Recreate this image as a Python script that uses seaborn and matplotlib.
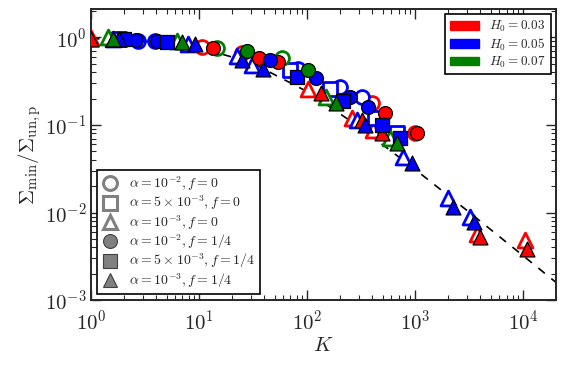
import matplotlib
matplotlib.use("Agg")
from matplotlib import pyplot as plt
from matplotlib.lines import Line2D
from matplotlib.patches import Patch
import seaborn as sns
import numpy as np

# ---- data ----
# red, H0 = 0.03
red_open_circ_K = [10.6, 25, 400, 1000]
red_open_circ_y = [0.78, 0.66, 0.18, 0.082]
red_open_tri_K = [1.0, 102, 260, 410, 3750, 10400]
red_open_tri_y = [0.98, 0.26, 0.12, 0.088, 0.0057, 0.0049]
red_fill_circ_K = [13.5, 36, 54, 530, 1040]
red_fill_circ_y = [0.75, 0.58, 0.52, 0.137, 0.08]
red_fill_tri_K = [1.0, 134, 320, 495, 4000, 10800]
red_fill_tri_y = [0.95, 0.23, 0.114, 0.081, 0.0053, 0.0038]

# blue, H0 = 0.05
blue_open_circ_K = [2.7, 3.9, 83, 202, 320]
blue_open_circ_y = [0.92, 0.92, 0.44, 0.27, 0.21]
blue_open_sq_K = [1.8, 70, 163, 425, 680]
blue_open_sq_y = [0.97, 0.42, 0.26, 0.12, 0.081]
blue_open_tri_K = [1.6, 7.9, 22.5, 31, 290, 775, 2000, 3200]
blue_open_tri_y = [0.97, 0.85, 0.62, 0.48, 0.114, 0.043, 0.0148, 0.009]
blue_fill_circ_K = [2.6, 4.1, 45, 121, 250, 368]
blue_fill_circ_y = [0.93, 0.9, 0.55, 0.34, 0.21, 0.16]
blue_fill_sq_K = [2.0, 5.0, 80, 214, 495, 720]
blue_fill_sq_y = [0.95, 0.88, 0.35, 0.19, 0.10, 0.071]
blue_fill_tri_K = [1.8, 9.2, 25, 39, 345, 935, 2250, 3500]
blue_fill_tri_y = [0.96, 0.83, 0.55, 0.44, 0.10, 0.037, 0.0117, 0.0077]

# green, H0 = 0.07
green_open_circ_K = [14.7, 59]
green_open_circ_y = [0.75, 0.58]
green_open_tri_K = [1.44, 6.2, 150, 590]
green_open_tri_y = [1.0, 0.9, 0.21, 0.071]
green_fill_circ_K = [28, 102]
green_fill_circ_y = [0.70, 0.42]
green_fill_tri_K = [1.6, 7.0, 186, 680]
green_fill_tri_y = [0.97, 0.88, 0.18, 0.062]

# dashed reference curve
line_K = [1, 3, 10, 30, 100, 300, 1000, 3000, 10000, 20000]
line_y = [0.97, 0.91, 0.76, 0.52, 0.24, 0.096, 0.031, 0.0106, 0.0032, 0.0016]

H0_labels = [r'$H_0=0.03$', r'$H_0=0.05$', r'$H_0=0.07$']
H0_colors = ['red', 'blue', 'green']
alpha_labels = [r'$\alpha=10^{-2}, f=0$', r'$\alpha=5\times10^{-3}, f=0$',
                r'$\alpha=10^{-3}, f=0$', r'$\alpha=10^{-2}, f=1/4$',
                r'$\alpha=5\times10^{-3}, f=1/4$', r'$\alpha=10^{-3}, f=1/4$']

sns.set_style("ticks")
plt.rcParams.update({
    'font.family': 'serif',
    'font.serif': ['cmr10', 'DejaVu Serif'],
    'mathtext.fontset': 'cm',
    'axes.formatter.use_mathtext': True,
    'xtick.direction': 'in', 'ytick.direction': 'in',
    'xtick.top': True, 'ytick.right': True,
    'xtick.major.size': 7, 'ytick.major.size': 7,
    'xtick.minor.size': 3.5, 'ytick.minor.size': 3.5,
    'xtick.major.width': 1, 'ytick.major.width': 1,
    'xtick.minor.width': 0.8, 'ytick.minor.width': 0.8,
    'axes.linewidth': 1.4,
})

fig = plt.figure(figsize=(5.66, 3.66), dpi=100)
ax = fig.add_axes([0.161, 0.18, 0.821, 0.795])

ax.plot(line_K, line_y, '--', color='k', lw=1.2, dashes=(5, 5), zorder=1)

open_sets = [
    (red_open_circ_K, red_open_circ_y, 'o', 'red'),
    (red_open_tri_K, red_open_tri_y, '^', 'red'),
    (blue_open_circ_K, blue_open_circ_y, 'o', 'blue'),
    (blue_open_sq_K, blue_open_sq_y, 's', 'blue'),
    (blue_open_tri_K, blue_open_tri_y, '^', 'blue'),
    (green_open_circ_K, green_open_circ_y, 'o', 'green'),
    (green_open_tri_K, green_open_tri_y, '^', 'green'),
]
fill_sets = [
    (red_fill_circ_K, red_fill_circ_y, 'o', 'red'),
    (red_fill_tri_K, red_fill_tri_y, '^', 'red'),
    (blue_fill_circ_K, blue_fill_circ_y, 'o', 'blue'),
    (blue_fill_sq_K, blue_fill_sq_y, 's', 'blue'),
    (blue_fill_tri_K, blue_fill_tri_y, '^', 'blue'),
    (green_fill_circ_K, green_fill_circ_y, 'o', 'green'),
    (green_fill_tri_K, green_fill_tri_y, '^', 'green'),
]
sizes = {'o': 100, 's': 95, '^': 115}

for K, y, m, c in open_sets:
    sns.scatterplot(x=K, y=y, marker=m, s=sizes[m], facecolor='white', edgecolor=c,
                    linewidth=2.0, ax=ax, legend=False, zorder=2)
for K, y, m, c in fill_sets:
    sns.scatterplot(x=K, y=y, marker=m, s=sizes[m], facecolor=c, edgecolor='black',
                    linewidth=0.9, ax=ax, legend=False, zorder=3)

ax.set_xscale('log')
ax.set_yscale('log')
ax.set_xlim(1, 2e4)
ax.set_ylim(1e-3, 2.1)
ax.tick_params(labelsize=15)
ax.tick_params(axis='x', pad=7)
ax.set_xlabel(r'$K$', fontsize=15, labelpad=2)
ax.set_ylabel(r'$\Sigma_{\rm min}/\Sigma_{\rm un,p}$', fontsize=15, labelpad=1)

# legend for markers
mk = ['o', 's', '^', 'o', 's', '^']
handles = []
for i, lab in enumerate(alpha_labels):
    if i < 3:
        h = Line2D([], [], ls='', marker=mk[i], ms=10, mfc='white', mec='gray', mew=2.2)
    else:
        h = Line2D([], [], ls='', marker=mk[i], ms=10, mfc='gray', mec='#404040', mew=0.8)
    handles.append(h)
leg1 = ax.legend(handles, alpha_labels, loc='lower left', fontsize=10, frameon=True,
                 fancybox=False, edgecolor='black', handlelength=1.2,
                 borderaxespad=0.45, labelspacing=0.05, borderpad=0.3, framealpha=1)
leg1.get_frame().set_linewidth(1.2)
ax.add_artist(leg1)

patches = [Patch(facecolor=c, edgecolor=c) for c in H0_colors]
leg2 = ax.legend(patches, H0_labels, loc='upper right', fontsize=9.5, frameon=True,
                 fancybox=False, edgecolor='black', handlelength=2.2, handleheight=0.6,
                 borderaxespad=0.4, labelspacing=0.15, borderpad=0.35, framealpha=1)
leg2.get_frame().set_linewidth(1.2)

fig.savefig('out.png', dpi=100)
